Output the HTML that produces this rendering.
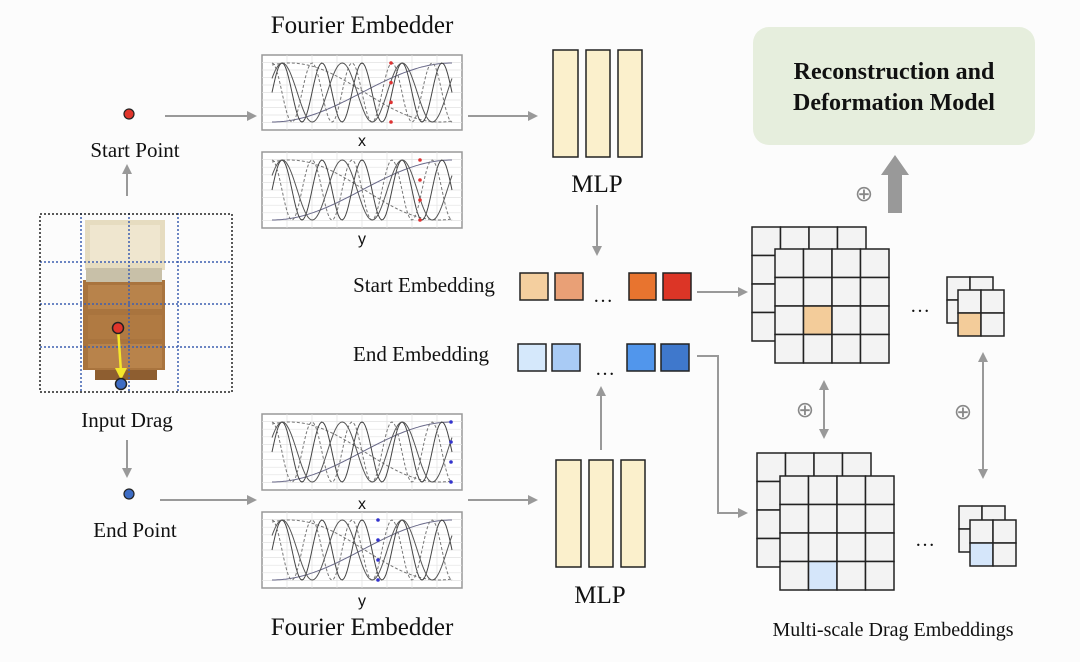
<!DOCTYPE html>
<html><head><meta charset="utf-8"><style>
html,body{margin:0;padding:0;background:#fcfcfc}
svg{display:block}
text{font-family:"Liberation Serif",serif;fill:#111}
</style></head><body>
<svg id="s" width="1080" height="662" viewBox="0 0 1080 662" xmlns="http://www.w3.org/2000/svg">
<defs>
<marker id="ah" markerWidth="10" markerHeight="10" refX="8" refY="5" orient="auto" markerUnits="userSpaceOnUse">
<path d="M0,0 L10,5 L0,10 z" fill="#999"/></marker>
<marker id="ahs" markerWidth="10" markerHeight="10" refX="8" refY="5" orient="auto-start-reverse" markerUnits="userSpaceOnUse">
<path d="M0,0 L10,5 L0,10 z" fill="#999"/></marker>
</defs>
<rect width="1080" height="662" fill="#fcfcfc"/>

<text x="362" y="33" font-size="25" text-anchor="middle">Fourier Embedder</text>
<text x="362" y="635" font-size="25" text-anchor="middle">Fourier Embedder</text>

<g id="plots"></g>
<text x="362" y="146" text-anchor="middle" style="font-family:'Liberation Sans',sans-serif;font-size:16px">x</text>
<text x="362" y="244" text-anchor="middle" style="font-family:'Liberation Sans',sans-serif;font-size:16px">y</text>
<text x="362" y="509" text-anchor="middle" style="font-family:'Liberation Sans',sans-serif;font-size:16px">x</text>
<text x="362" y="606" text-anchor="middle" style="font-family:'Liberation Sans',sans-serif;font-size:16px">y</text>

<circle cx="129" cy="114" r="5" fill="#e0352b" stroke="#222" stroke-width="1.2"/>
<text x="135" y="157" font-size="21" text-anchor="middle">Start Point</text>
<circle cx="129" cy="494" r="5" fill="#3d6cc4" stroke="#222" stroke-width="1.2"/>
<text x="135" y="537" font-size="21" text-anchor="middle">End Point</text>
<text x="127" y="427" font-size="21" text-anchor="middle">Input Drag</text>

<g stroke="#999" stroke-width="2" fill="none">
<line x1="165" y1="116" x2="255" y2="116" marker-end="url(#ah)"/>
<line x1="127" y1="196" x2="127" y2="166" marker-end="url(#ah)"/>
<line x1="127" y1="440" x2="127" y2="476" marker-end="url(#ah)"/>
<line x1="160" y1="500" x2="255" y2="500" marker-end="url(#ah)"/>
<line x1="468" y1="116" x2="536" y2="116" marker-end="url(#ah)"/>
<line x1="468" y1="500" x2="536" y2="500" marker-end="url(#ah)"/>
<line x1="597" y1="205" x2="597" y2="254" marker-end="url(#ah)"/>
<line x1="601" y1="450" x2="601" y2="388" marker-end="url(#ah)"/>
<line x1="697" y1="292" x2="746" y2="292" marker-end="url(#ah)"/>
<polyline points="697,356 718,356 718,513 746,513" marker-end="url(#ah)"/>
<line x1="824" y1="382" x2="824" y2="437" marker-start="url(#ahs)" marker-end="url(#ahs)"/>
<line x1="983" y1="354" x2="983" y2="477" marker-start="url(#ahs)" marker-end="url(#ahs)"/>
</g>

<g>
<rect x="85" y="220" width="80" height="50" fill="#e6dcc0"/>
<rect x="90" y="225" width="70" height="38" fill="#efe6cf"/>
<rect x="83" y="280" width="82" height="90" fill="#a9743e"/>
<rect x="86" y="268" width="76" height="14" fill="#c8c0a8"/>
<rect x="88" y="285" width="74" height="24" fill="#b8834b"/>
<rect x="88" y="315" width="74" height="24" fill="#b07a42"/>
<rect x="88" y="344" width="74" height="24" fill="#b8834b"/>
<rect x="95" y="370" width="62" height="10" fill="#8e5e30"/>
</g>
<g stroke="#3d5fb0" stroke-width="1.5" stroke-dasharray="2,2" fill="none">
<line x1="40" y1="262" x2="232" y2="262"/><line x1="40" y1="304" x2="232" y2="304"/><line x1="40" y1="347" x2="232" y2="347"/>
<line x1="81" y1="213" x2="81" y2="392"/><line x1="129" y1="213" x2="129" y2="392"/><line x1="178" y1="213" x2="178" y2="392"/>
</g>
<rect x="40" y="214" width="192" height="178" fill="none" stroke="#222" stroke-width="1.5" stroke-dasharray="2,2"/>
<line x1="118" y1="328" x2="121" y2="372" stroke="#f5e62a" stroke-width="2.5"/>
<path d="M115,368 L121,380 L127,368z" fill="#f5e62a"/>
<circle cx="118" cy="328" r="5.5" fill="#e0352b" stroke="#222" stroke-width="1.5"/>
<circle cx="121" cy="384" r="5.5" fill="#3d6cc4" stroke="#222" stroke-width="1.5"/>

<g fill="#fbf0cc" stroke="#222" stroke-width="1.5">
<rect x="553" y="50" width="25" height="107"/><rect x="586" y="50" width="24" height="107"/><rect x="618" y="50" width="24" height="107"/>
<rect x="556" y="460" width="25" height="107"/><rect x="589" y="460" width="24" height="107"/><rect x="621" y="460" width="24" height="107"/>
</g>
<text x="597" y="192" font-size="25" text-anchor="middle">MLP</text>
<text x="600" y="603" font-size="25" text-anchor="middle">MLP</text>

<text x="424" y="292" font-size="21" text-anchor="middle">Start Embedding</text>
<text x="421" y="361" font-size="21" text-anchor="middle">End Embedding</text>
<g stroke="#222" stroke-width="1.5">
<rect x="520" y="273" width="28" height="27" fill="#f4cf9f"/>
<rect x="555" y="273" width="28" height="27" fill="#e9a076"/>
<rect x="629" y="273" width="27" height="27" fill="#e8742f"/>
<rect x="663" y="273" width="28" height="27" fill="#dc3526"/>
<rect x="518" y="344" width="28" height="27" fill="#d5e8fb"/>
<rect x="552" y="344" width="28" height="27" fill="#a9cbf5"/>
<rect x="627" y="344" width="28" height="27" fill="#5196ec"/>
<rect x="661" y="344" width="28" height="27" fill="#3f78cc"/>
</g>
<text x="603" y="302" font-size="20" text-anchor="middle">…</text>
<text x="605" y="375" font-size="20" text-anchor="middle">…</text>

<g id="grids"></g>
<text x="920" y="312" font-size="20" text-anchor="middle">…</text>
<text x="925" y="546" font-size="20" text-anchor="middle">…</text>
<text x="805" y="417" text-anchor="middle" style="fill:#888;font-family:'DejaVu Sans',sans-serif;font-size:22px">⊕</text>
<text x="963" y="419" text-anchor="middle" style="fill:#888;font-family:'DejaVu Sans',sans-serif;font-size:22px">⊕</text>
<text x="864" y="201" text-anchor="middle" style="fill:#888;font-family:'DejaVu Sans',sans-serif;font-size:22px">⊕</text>
<path d="M888,213 L888,175 L881,175 L895,155 L909,175 L902,175 L902,213z" fill="#999"/>

<rect x="753" y="27" width="282" height="118" rx="16" fill="#e6eedd"/>
<text x="894" y="79" font-size="24" font-weight="bold" text-anchor="middle">Reconstruction and</text>
<text x="894" y="110" font-size="24" font-weight="bold" text-anchor="middle">Deformation Model</text>
<text x="893" y="636" font-size="20" text-anchor="middle">Multi-scale Drag Embeddings</text>
</svg>
<script>
var NS="http://www.w3.org/2000/svg";
function el(p,t,a){var e=document.createElementNS(NS,t);for(var k in a)e.setAttribute(k,a[k]);p.appendChild(e);return e;}
var P=document.getElementById("plots");
function plot(x,y,w,h,dotx,col){
 el(P,"rect",{x:x,y:y,width:w,height:h,fill:"#fff",stroke:"#999","stroke-width":1.5});
 for(var i=1;i<10;i++)el(P,"line",{x1:x,y1:y+h*i/10,x2:x+w,y2:y+h*i/10,stroke:"#e2e2e2","stroke-width":0.7});
 for(var i=1;i<8;i++)el(P,"line",{x1:x+w*i/8,y1:y,x2:x+w*i/8,y2:y+h,stroke:"#e2e2e2","stroke-width":0.7});
 var fr=[[0.5,-1.57,"#6a6a8a",""],[0.6,1.2,"#777","3,2"],[4.5,0,"#444",""],[4.5,1.57,"#777","3,2"],[3,0.5,"#555",""]];
 fr.forEach(function(f){var d="";for(var i=0;i<=120;i++){var t=i/120;var xx=x+10+t*(w-20);var yy=y+h/2-(h/2-8)*Math.sin(f[0]*2*Math.PI*t+f[1]);d+=(i?"L":"M")+xx.toFixed(1)+","+yy.toFixed(1);}
 el(P,"path",{d:d,fill:"none",stroke:f[2],"stroke-width":1,"stroke-dasharray":f[3]});});
 for(var j=0;j<4;j++)el(P,"circle",{cx:dotx,cy:y+8+j*(h-16)/3,r:1.8,fill:col});
}
plot(262,55,200,75,391,"#d33");plot(262,152,200,76,420,"#d33");
plot(262,414,200,76,451,"#33c");plot(262,512,200,76,378,"#33c");
var G=document.getElementById("grids");
function grid(x,y,n,c,hl,hc){for(var r=0;r<n;r++)for(var k=0;k<n;k++)el(G,"rect",{x:x+k*c,y:y+r*c,width:c,height:c,fill:(hl&&hl[0]==r&&hl[1]==k)?hc:"#f3f3f3",stroke:"#222","stroke-width":1.5});}
grid(752,227,4,28.5);grid(775,249,4,28.5,[2,1],"#f3cc9a");
grid(947,277,2,23);grid(958,290,2,23,[1,0],"#f3cc9a");
grid(757,453,4,28.5);grid(780,476,4,28.5,[3,1],"#d5e6fa");
grid(959,506,2,23);grid(970,520,2,23,[1,0],"#d5e6fa");
</script>
</body></html>
